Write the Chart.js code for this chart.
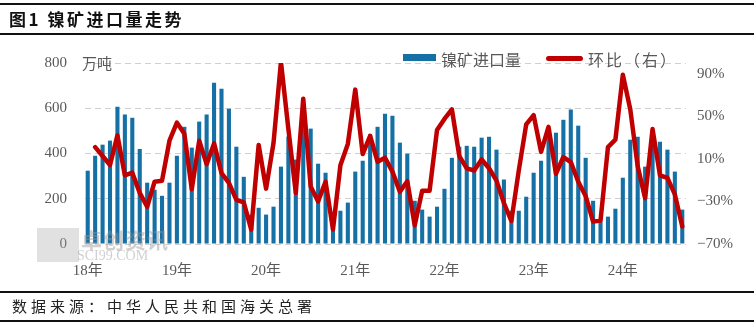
<!DOCTYPE html>
<html>
<head>
<meta charset="utf-8">
<script src="https://cdn.jsdelivr.net/npm/chart.js@4.4.1/dist/chart.umd.min.js"></script>
<style>
  body { margin: 0; background: #fff; }
  #wrap { position: relative; width: 754px; height: 325px; overflow: hidden; font-family: "Noto Sans CJK SC", sans-serif; }
  #chart { position: absolute; left: 0; top: 0; }
  .rule { position: absolute; left: 0; width: 754px; height: 2px; background: #111; }
  .title { position: absolute; left: 9px; top: 6px; font-size: 17px; font-weight: bold; color: #111; letter-spacing: 2.5px; white-space: pre; }
  .source { position: absolute; left: 12px; top: 295px; font-size: 15px; color: #222; letter-spacing: 4px; }
  .unit { position: absolute; left: 82px; top: 52px; font-size: 15px; color: #595959; }
  .lg-text { position: absolute; top: 47px; font-size: 16px; color: #595959; }
  .wm { position: absolute; color: rgba(150,150,150,0.45); pointer-events: none; }
</style>
</head>
<body>
<div id="wrap">
  <canvas id="chart" width="754" height="325"></canvas>
  <div class="rule" style="top:3px"></div>
  <div class="title">图1 镍矿进口量走势</div>
  <div class="rule" style="top:33px"></div>
  <div class="unit">万吨</div>
  <div style="position:absolute;left:403px;top:54px;width:33px;height:7px;background:#1570a6"></div>
  <div class="lg-text" style="left:441px">镍矿进口量</div>
  <div style="position:absolute;left:546px;top:56px;width:37px;height:5px;border-radius:3px;background:#c00000"></div>
  <div class="lg-text" style="left:588px;letter-spacing:2px">环比（右）</div>
  <!-- watermark -->
  <div class="wm" style="left:37px;top:228px;width:42px;height:34px;background:rgba(170,170,170,0.35)"></div>
  <div class="wm" style="left:81px;top:224px;font-size:21px;font-weight:bold;letter-spacing:1px">卓创资讯</div>
  <div class="wm" style="left:77px;top:248px;font-size:14px;font-family:'Liberation Serif',serif">SCI99.COM</div>
  <div class="rule" style="top:291px"></div>
  <div class="source">数据来源：中华人民共和国海关总署</div>
  <div class="rule" style="top:320px"></div>
</div>
<script>
// 月份：2018-01 至 2024-09
const months = [
  '2018-01','2018-02','2018-03','2018-04','2018-05','2018-06','2018-07','2018-08','2018-09','2018-10','2018-11','2018-12',
  '2019-01','2019-02','2019-03','2019-04','2019-05','2019-06','2019-07','2019-08','2019-09','2019-10','2019-11','2019-12',
  '2020-01','2020-02','2020-03','2020-04','2020-05','2020-06','2020-07','2020-08','2020-09','2020-10','2020-11','2020-12',
  '2021-01','2021-02','2021-03','2021-04','2021-05','2021-06','2021-07','2021-08','2021-09','2021-10','2021-11','2021-12',
  '2022-01','2022-02','2022-03','2022-04','2022-05','2022-06','2022-07','2022-08','2022-09','2022-10','2022-11','2022-12',
  '2023-01','2023-02','2023-03','2023-04','2023-05','2023-06','2023-07','2023-08','2023-09','2023-10','2023-11','2023-12',
  '2024-01','2024-02','2024-03','2024-04','2024-05','2024-06','2024-07','2024-08','2024-09'
];

// 年份刻度（每年1月）
const yearLabels = { '2018-01': '18年', '2019-01': '19年', '2020-01': '20年', '2021-01': '21年',
                     '2022-01': '22年', '2023-01': '23年', '2024-01': '24年' };

// 镍矿进口量（万吨）
const imports = [
  324, 390, 439, 457, 607, 572, 558, 420, 271, 240, 213, 271,
  390, 518, 426, 541, 572, 713, 686, 598, 430, 297, 130, 160,
  130, 165, 342, 475, 373, 622, 510, 355, 315, 138, 147, 183,
  320, 368, 484, 518, 576, 567, 448, 399, 191, 152, 121, 165,
  244, 381, 430, 434, 430, 470, 474, 417, 285, 147, 147, 209,
  315, 368, 510, 492, 549, 594, 523, 381, 191, 99, 121, 156,
  293, 461, 474, 342, 470, 452, 417, 320, 152
];

// 环比（%）
const mom = [
  null, 21, 12.6, 4.2, 32, -5.5, -3, -22, -35, -11.5, -10.5, 27,
  44, 33.5, -18.5, 27, 5, 24.5, -3.5, -12.5, -28.5, -31, -56.5, 23,
  -18, 25, 101, 38, -22, 66.5, -16, -30, -11.5, -56.3, 4, 24,
  75, 14.5, 31.5, 7.2, 11, -2, -21, -11, -52.5, -20, -20, 37,
  47.5, 56.5, 12.5, 1, -1, 9.4, 1.2, -10.5, -31.5, -48.4, -1, 42.3,
  51, 16.5, 40, -4, 11.7, 7, -11.5, -25, -49, -48, 21, 28,
  89, 56.5, 3, -27, 38, -5.5, -8, -23.4, -53.5
];

const rightTicks = [-70, -30, 10, 50, 90];

const tickFont = { family: "'Liberation Serif', 'Noto Sans CJK SC', serif", size: 15 };

new Chart(document.getElementById('chart').getContext('2d'), {
  data: {
    labels: months,
    datasets: [
      {
        type: 'line',
        label: '环比（右）',
        data: mom,
        yAxisID: 'y1',
        borderColor: '#c00000',
        borderWidth: 4.5,
        pointRadius: 0,
        tension: 0,
        borderJoinStyle: 'round',
        borderCapStyle: 'round',
        order: 0
      },
      {
        type: 'bar',
        label: '镍矿进口量',
        data: imports,
        yAxisID: 'y',
        backgroundColor: '#1570a6',
        categoryPercentage: 1,
        barPercentage: 0.55,
        order: 1
      }
    ]
  },
  options: {
    responsive: false,
    animation: false,
    layout: { padding: { left: 0, right: 0, top: 63, bottom: 41 } },
    plugins: { legend: { display: false }, tooltip: { enabled: false } },
    scales: {
      x: {
        offset: true,
        grid: { display: false },
        border: { display: false },
        ticks: {
          autoSkip: false, maxRotation: 0, minRotation: 0,
          padding: 10, color: '#595959', font: tickFont,
          callback: (v, i) => yearLabels[months[i]] || ''
        },
        afterFit: s => { s.height = 40; }
      },
      y: {
        position: 'left',
        min: 0, max: 800,
        ticks: { stepSize: 200, padding: 17, color: '#595959', font: tickFont },
        grid: { color: '#d0d0d0', lineWidth: 1, drawTicks: false },
        border: { display: true, color: 'rgba(0,0,0,0)', dash: [6, 4] },
        afterFit: s => { s.width = 84; }
      },
      y1: {
        position: 'right',
        min: -70, max: 100,
        afterBuildTicks: s => { s.ticks = rightTicks.map(v => ({ value: v })); },
        ticks: {
          padding: 11, color: '#595959', font: tickFont,
          callback: v => (v < 0 ? '−' + Math.abs(v) : v) + '%'
        },
        grid: { display: false, drawTicks: false },
        border: { display: false },
        afterFit: s => { s.width = 68; }
      }
    }
  }
});
</script>
</body>
</html>
